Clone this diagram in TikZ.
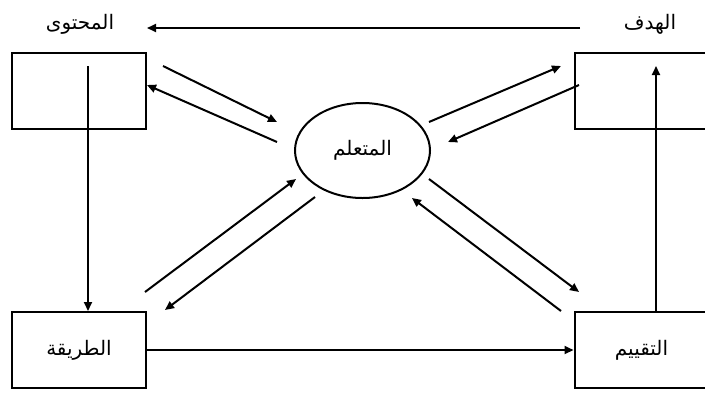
\documentclass[tikz,border=0pt]{standalone}
\usepackage{fontspec}
\newfontfamily\arabicfont[Script=Arabic]{DejaVu Sans}
\TeXXeTstate=1
\usetikzlibrary{arrows.meta,shapes.geometric}
\begin{document}
\begin{tikzpicture}[x=1pt,y=-1pt,
  box/.style={draw,line width=2pt,minimum width=134pt,minimum height=76pt,inner sep=0pt,font=\arabicfont\fontsize{20}{24}\selectfont},
  lbl/.style={inner sep=0pt,font=\arabicfont\fontsize{20}{24}\selectfont},
  arr/.style={line width=2pt,-{Triangle[length=9pt,width=8pt]}},
  ln/.style={line width=2pt}]
\useasboundingbox (0,0) rectangle (705,392);
% boxes
\node[box] (content) at (79,91) {};
\node[box] (goal) at (641.5,91) {};
\node[box] (method) at (79,350) {\beginR الطريقة\endR};
\node[box] (eval) at (641.5,350) {\beginR التقييم\endR};
\node[draw,ellipse,line width=2pt,minimum width=135pt,minimum height=95pt,inner sep=0pt,font=\arabicfont\fontsize{20}{24}\selectfont] (learner) at (362.5,150.5) {\beginR المتعلم\endR};
% labels
\node[lbl] (contentlbl) at (80,24) {\beginR المحتوى\endR};
\node[lbl] (goallbl) at (650,24) {\beginR الهدف\endR};
% coordinates
\coordinate (t1) at (580,28);
\coordinate (t2) at (147,28);
\coordinate (l1) at (88,66);
\coordinate (l2) at (88,311);
\coordinate (r1) at (656,312);
\coordinate (r2) at (656,66);
\coordinate (a1s) at (163,66);  \coordinate (a1e) at (277,122);
\coordinate (a2s) at (277,142); \coordinate (a2e) at (147,85);
\coordinate (a3s) at (429,122); \coordinate (a3e) at (561,66);
\coordinate (a4s) at (579,85);  \coordinate (a4e) at (448,142);
\coordinate (a5s) at (145,292); \coordinate (a5e) at (296,179);
\coordinate (a6s) at (315,197); \coordinate (a6e) at (165,310);
\coordinate (a7s) at (429,179); \coordinate (a7e) at (579,292);
\coordinate (a8s) at (561,311); \coordinate (a8e) at (412,198);
% connectors
\draw[arr] (t1) -- (t2);
\draw[arr] (l1) -- (l2);
\draw[arr] (r1) -- (r2);
\draw[arr] (method.east) -- (eval.west);
\draw[arr] (a1s) -- (a1e);
\draw[arr] (a2s) -- (a2e);
\draw[arr] (a3s) -- (a3e);
\draw[arr] (a4s) -- (a4e);
\draw[arr] (a5s) -- (a5e);
\draw[arr] (a6s) -- (a6e);
\draw[arr] (a7s) -- (a7e);
\draw[arr] (a8s) -- (a8e);
\end{tikzpicture}
\end{document}
